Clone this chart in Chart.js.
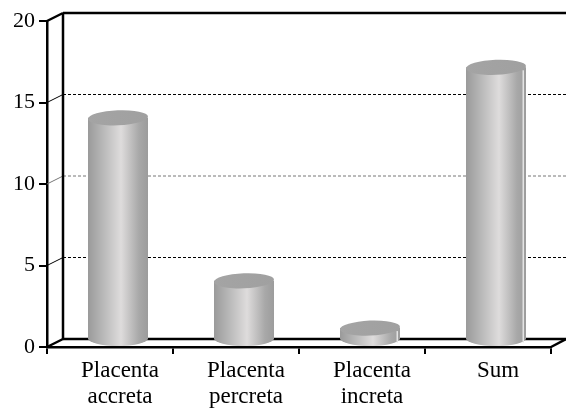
<!DOCTYPE html>
<html>
<head>
<meta charset="utf-8">
<title>Placenta cases</title>
<script src="https://cdn.jsdelivr.net/npm/chart.js@4/dist/chart.umd.min.js"></script>
<style>
html, body { margin: 0; padding: 0; background: #fff; }
canvas { display: block; }
</style>
</head>
<body>
<canvas id="myChart" width="566" height="408"></canvas>
<script>
// values
var categories = [['Placenta', 'accreta'], ['Placenta', 'percreta'], ['Placenta', 'increta'], 'Sum'];
var cases = [13.6, 3.6, 0.7, 16.7];
var gridValues = [5, 10, 15];

var depthX = 16, depthY = 8;   // offset of the back wall
var barShift = 8;              // cylinders stand in the middle of the floor
var rimY = 7.5;                // half height of the ellipses

function line(c, x1, y1, x2, y2) {
    c.beginPath();
    c.moveTo(x1, y1);
    c.lineTo(x2, y2);
    c.stroke();
}

// fake 3d box behind the bars, built from the y scale
var wallPlugin = {
    id: 'wall',
    beforeDatasetsDraw: function(chart) {
        var c = chart.ctx, a = chart.chartArea, y = chart.scales.y;
        var right = chart.width;
        var top = y.getPixelForValue(20), zero = y.getPixelForValue(0);
        c.save();
        c.strokeStyle = '#000';

        gridValues.forEach(function(v) {
            var py = y.getPixelForValue(v);
            c.lineWidth = 1;
            c.strokeStyle = v == 10 ? '#777' : '#000';
            c.setLineDash([3, 2]);
            line(c, a.left + depthX, py - depthY, right, py - depthY);
            c.setLineDash([]);
            line(c, a.left, py, a.left + depthX, py - depthY);
        });

        c.strokeStyle = '#000';
        c.lineWidth = 2.5;
        line(c, a.left + depthX, top - depthY, right, top - depthY);
        line(c, a.left + depthX, top - depthY, a.left + depthX, zero - depthY);
        line(c, a.left, top, a.left + depthX, top - depthY);
        line(c, a.left, zero, a.left + depthX, zero - depthY);
        line(c, a.left + depthX, zero - depthY, right, zero - depthY);
        line(c, a.right, zero, right, zero - depthY);
        c.restore();
    }
};

// cylinders on top of the (transparent) bar elements
var cylinderPlugin = {
    id: 'cylinder',
    afterDatasetsDraw: function(chart) {
        var c = chart.ctx;
        chart.getDatasetMeta(0).data.forEach(function(bar, i) {
            var cx = bar.x + barShift, r = bar.width / 2;
            var top = bar.y - rimY, base = bar.base - rimY;
            var g = c.createLinearGradient(cx - r, 0, cx + r, 0);
            g.addColorStop(0, '#9a9a9a');
            g.addColorStop(0.25, '#b8b8b8');
            g.addColorStop(0.55, '#dedcdc');
            g.addColorStop(0.85, '#a8a8a8');
            g.addColorStop(1, '#9c9c9c');
            c.save();
            c.fillStyle = g;
            c.beginPath();
            c.moveTo(cx - r, top);
            c.lineTo(cx - r, base);
            c.ellipse(cx, base, r, rimY, 0, Math.PI, 0, true);
            c.lineTo(cx + r, top);
            c.closePath();
            c.fill();
            if (i >= 2) {
                c.fillStyle = '#e4e4e4';
                c.fillRect(cx + r - 3.5, top + 3, 1.5, base - top + 1);
            }
            var tg = c.createLinearGradient(cx - r, top, cx + r, top);
            tg.addColorStop(0, '#a4a4a4');
            tg.addColorStop(1, '#a0a0a0');
            c.fillStyle = tg;
            c.beginPath();
            c.ellipse(cx, top, r, rimY, -0.04, 0, Math.PI * 2);
            c.fill();
            c.restore();
        });
    }
};

var ctx = document.getElementById('myChart').getContext('2d');
var myChart = new Chart(ctx, {
    type: 'bar',
    data: {
        labels: categories,
        datasets: [{
            label: 'Cases',
            data: cases,
            backgroundColor: 'rgba(0,0,0,0)',
            barThickness: 60
        }]
    },
    plugins: [wallPlugin, cylinderPlugin],
    options: {
        responsive: false,
        animation: false,
        devicePixelRatio: 1,
        layout: { padding: { top: 21, right: 15, left: 0, bottom: 0 } },
        plugins: { legend: { display: false }, tooltip: { enabled: false } },
        scales: {
            x: {
                afterFit: function(s) { s.height = 61; },
                border: { color: '#000', width: 2.5 },
                grid: { drawOnChartArea: false, color: '#000', lineWidth: 2, tickLength: 7 },
                ticks: {
                    color: '#000',
                    maxRotation: 0,
                    autoSkip: false,
                    labelOffset: 10,
                    padding: 3,
                    font: { family: '"Liberation Serif"', size: 23, lineHeight: 1.17 }
                }
            },
            y: {
                min: 0,
                max: 20,
                afterFit: function(s) { s.width = 47; },
                border: { color: '#000', width: 2.5 },
                grid: { drawOnChartArea: false, color: '#000', lineWidth: 2, tickLength: 8 },
                ticks: {
                    stepSize: 5,
                    color: '#000',
                    padding: 4,
                    font: { family: '"Liberation Serif"', size: 22 }
                }
            }
        }
    }
});
</script>
</body>
</html>
